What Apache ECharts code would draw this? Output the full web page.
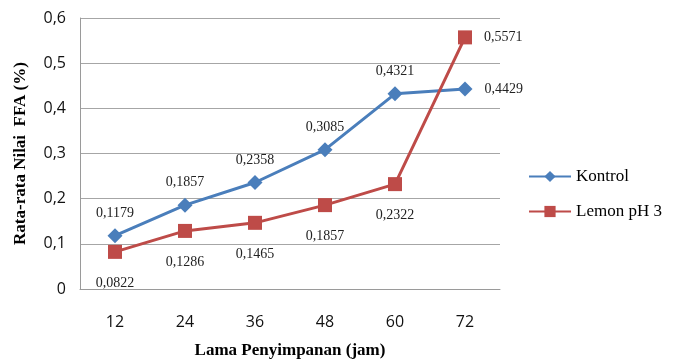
<!DOCTYPE html>
<html>
<head>
<meta charset="utf-8">
<script src="https://cdn.jsdelivr.net/npm/echarts@6/dist/echarts.min.js"></script>
<style>
  html, body { margin: 0; padding: 0; background: #fff; }
  #chart { width: 674px; height: 364px; }
</style>
</head>
<body>
<div id="chart"></div>
<script>
// Storage time (hours) and mean FFA values (%)
const categories = ['12', '24', '36', '48', '60', '72'];
const kontrol = [0.1179, 0.1857, 0.2358, 0.3085, 0.4321, 0.4429];
const lemon = [0.0822, 0.1286, 0.1465, 0.1857, 0.2322, 0.5571];
const kontrolLabelPos = ['top', 'top', 'top', 'top', 'top', 'right'];
const lemonLabelPos = ['bottom', 'bottom', 'bottom', 'bottom', 'bottom', 'right'];

const serif = '"Liberation Serif", "Times New Roman", serif';
const sans = '"Open Sans", "Noto Sans", sans-serif';
const fmt = v => v.toFixed(4).replace('.', ',');
const labelGap = { top: 8, bottom: 17, right: 12 };

function points(values, positions) {
  return values.map((v, i) => ({
    value: v,
    label: { position: positions[i], distance: labelGap[positions[i]] }
  }));
}

const chart = echarts.init(document.getElementById('chart'));
chart.setOption({
  animation: false,
  grid: { left: 80, right: 174, top: 18, bottom: 71 },
  legend: {
    orient: 'vertical',
    left: 523,
    top: 163,
    itemGap: 18,
    itemWidth: 42,
    itemHeight: 14,
    textStyle: { fontFamily: serif, fontSize: 17, color: '#000' },
    data: ['Kontrol', 'Lemon pH 3']
  },
  xAxis: {
    type: 'category',
    data: categories,
    name: 'Lama Penyimpanan (jam)',
    nameLocation: 'middle',
    nameGap: 53,
    nameTextStyle: { fontFamily: serif, fontWeight: 'bold', fontSize: 17, color: '#000' },
    axisLine: { lineStyle: { color: '#9a9a9a' } },
    axisTick: { show: false },
    axisLabel: { fontFamily: sans, fontSize: 16, color: '#111', margin: 25 }
  },
  yAxis: {
    type: 'value',
    min: 0,
    max: 0.6,
    interval: 0.1,
    name: 'Rata-rata Nilai  FFA (%)',
    nameLocation: 'middle',
    nameGap: 51,
    nameTextStyle: { fontFamily: serif, fontWeight: 'bold', fontSize: 17, color: '#000' },
    axisLine: { show: true, lineStyle: { color: '#9a9a9a' } },
    axisTick: { show: false },
    splitLine: { lineStyle: { color: '#a6a6a6' } },
    axisLabel: {
      fontFamily: sans, fontSize: 16, color: '#111', margin: 14,
      formatter: v => (v === 0 ? '0' : v.toFixed(1).replace('.', ','))
    }
  },
  series: [
    {
      name: 'Kontrol',
      type: 'line',
      data: points(kontrol, kontrolLabelPos),
      symbol: 'diamond',
      symbolSize: 15,
      lineStyle: { color: '#4a7ebb', width: 3 },
      itemStyle: { color: '#4a7ebb' },
      label: {
        show: true,
        fontFamily: serif, fontSize: 14, color: '#222',
        formatter: p => fmt(p.value)
      }
    },
    {
      name: 'Lemon pH 3',
      type: 'line',
      data: points(lemon, lemonLabelPos),
      symbol: 'rect',
      symbolSize: 14,
      lineStyle: { color: '#be4b48', width: 3 },
      itemStyle: { color: '#be4b48' },
      label: {
        show: true,
        fontFamily: serif, fontSize: 14, color: '#222',
        formatter: p => fmt(p.value)
      }
    }
  ]
});
</script>
</body>
</html>
